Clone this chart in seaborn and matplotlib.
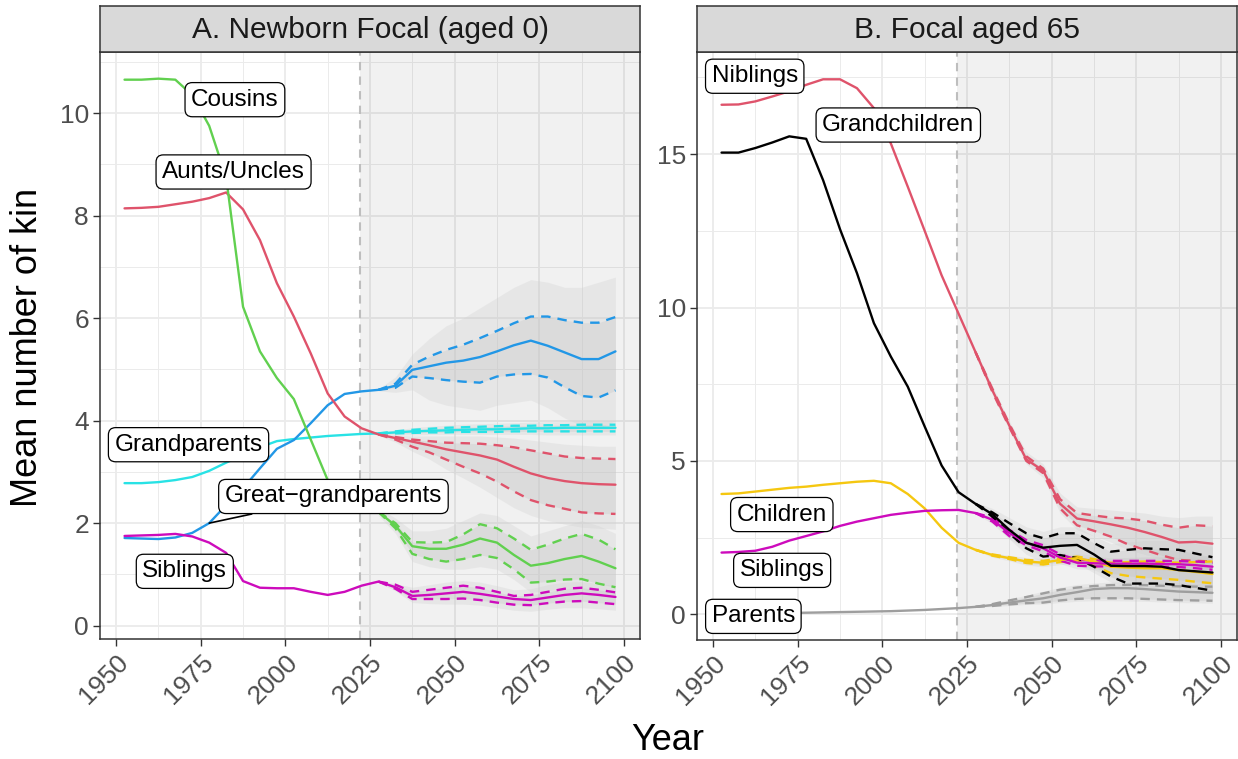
import matplotlib
matplotlib.use("Agg")
import matplotlib.pyplot as plt
import seaborn as sns

# Kin counts over time, historical + projected (mean, 2.5/97.5% dashed, simulation spread in grey)
years = [1952.5, 1957.5, 1962.5, 1967.5, 1972.5, 1977.5, 1982.5, 1987.5, 1992.5, 1997.5,
         2002.5, 2007.5, 2012.5, 2017.5, 2022.5, 2027.5, 2032.5, 2037.5, 2042.5, 2047.5,
         2052.5, 2057.5, 2062.5, 2067.5, 2072.5, 2077.5, 2082.5, 2087.5, 2092.5, 2097.5]
proj_years = years[15:]
start_projection = 2022

#%%
# Panel A: newborn focal
a_cousins = [10.65, 10.65, 10.67, 10.65, 10.35, 9.75, 8.75, 6.22, 5.35, 4.83,
             4.42, 3.63, 2.84, 2.62, 2.42, 2.22, 1.95, 1.55, 1.50, 1.50,
             1.58, 1.70, 1.62, 1.38, 1.17, 1.22, 1.30, 1.36, 1.25, 1.12]
a_cousins_hi = [2.22, 2.00, 1.63, 1.62, 1.63, 1.78, 1.98, 1.90, 1.70, 1.48, 1.58, 1.70, 1.79, 1.68, 1.49]
a_cousins_lo = [2.22, 1.90, 1.40, 1.30, 1.25, 1.30, 1.38, 1.32, 1.10, 0.84, 0.86, 0.90, 0.91, 0.82, 0.75]
a_cousins_env_hi = [2.30, 2.10, 1.85, 1.85, 1.90, 2.05, 2.20, 2.15, 1.95, 1.75, 1.85, 1.95, 2.05, 1.95, 1.80]
a_cousins_env_lo = [2.15, 1.80, 1.25, 1.15, 1.10, 1.10, 1.15, 1.10, 0.90, 0.65, 0.68, 0.72, 0.72, 0.62, 0.55]

a_aunts = [8.14, 8.15, 8.17, 8.22, 8.27, 8.34, 8.45, 8.12, 7.52, 6.68,
           6.03, 5.31, 4.53, 4.08, 3.85, 3.73, 3.66, 3.59, 3.52, 3.44,
           3.38, 3.32, 3.24, 3.10, 2.97, 2.88, 2.82, 2.78, 2.76, 2.75]
a_aunts_hi = [3.73, 3.68, 3.63, 3.60, 3.57, 3.56, 3.55, 3.52, 3.48, 3.42, 3.36, 3.30, 3.27, 3.26, 3.25]
a_aunts_lo = [3.73, 3.63, 3.49, 3.38, 3.24, 3.10, 2.97, 2.81, 2.62, 2.45, 2.35, 2.28, 2.21, 2.19, 2.18]
a_aunts_env_hi = [3.75, 3.72, 3.70, 3.70, 3.70, 3.70, 3.70, 3.68, 3.66, 3.62, 3.58, 3.54, 3.52, 3.50, 3.50]
a_aunts_env_lo = [3.71, 3.58, 3.40, 3.25, 3.05, 2.88, 2.70, 2.50, 2.30, 2.15, 2.05, 1.98, 1.92, 1.90, 1.88]

a_ggp = [1.71, 1.70, 1.69, 1.72, 1.81, 2.00, 2.35, 2.68, 3.07, 3.45,
         3.62, 3.95, 4.30, 4.52, 4.57, 4.60, 4.68, 4.99, 5.06, 5.13,
         5.17, 5.24, 5.35, 5.47, 5.56, 5.46, 5.33, 5.20, 5.20, 5.35]
a_ggp_hi = [4.60, 4.72, 5.09, 5.25, 5.38, 5.48, 5.61, 5.75, 5.90, 6.03, 6.03, 5.96, 5.91, 5.91, 6.02]
a_ggp_lo = [4.60, 4.64, 4.86, 4.83, 4.79, 4.76, 4.74, 4.86, 4.90, 4.91, 4.84, 4.65, 4.48, 4.45, 4.59]
a_ggp_env_hi = [4.62, 4.85, 5.30, 5.60, 5.85, 6.00, 6.20, 6.40, 6.60, 6.75, 6.70, 6.60, 6.60, 6.70, 6.80]
a_ggp_env_lo = [4.58, 4.55, 4.60, 4.40, 4.30, 4.25, 4.20, 4.30, 4.35, 4.40, 4.25, 4.05, 3.90, 3.85, 4.00]

a_gp = [2.78, 2.78, 2.80, 2.84, 2.90, 3.02, 3.18, 3.33, 3.48, 3.60,
        3.64, 3.67, 3.70, 3.72, 3.74, 3.75, 3.77, 3.79, 3.80, 3.81,
        3.82, 3.83, 3.83, 3.84, 3.85, 3.85, 3.86, 3.86, 3.86, 3.86]
a_gp_hi = [3.75, 3.79, 3.82, 3.84, 3.86, 3.87, 3.88, 3.89, 3.90, 3.90, 3.91, 3.91, 3.92, 3.92, 3.92]
a_gp_lo = [3.75, 3.75, 3.76, 3.77, 3.77, 3.78, 3.78, 3.78, 3.79, 3.79, 3.79, 3.79, 3.79, 3.79, 3.79]
a_gp_env_hi = [3.76, 3.82, 3.86, 3.89, 3.91, 3.93, 3.94, 3.95, 3.96, 3.97, 3.98, 3.98, 3.99, 3.99, 4.00]
a_gp_env_lo = [3.74, 3.72, 3.72, 3.73, 3.73, 3.73, 3.73, 3.73, 3.73, 3.73, 3.72, 3.72, 3.72, 3.72, 3.72]

a_sib = [1.75, 1.76, 1.77, 1.79, 1.74, 1.62, 1.42, 0.87, 0.74, 0.73,
         0.73, 0.66, 0.60, 0.66, 0.78, 0.86, 0.75, 0.58, 0.60, 0.63,
         0.66, 0.62, 0.57, 0.52, 0.50, 0.55, 0.60, 0.63, 0.60, 0.56]
a_sib_hi = [0.86, 0.80, 0.66, 0.70, 0.74, 0.78, 0.74, 0.66, 0.58, 0.60, 0.66, 0.72, 0.74, 0.70, 0.65]
a_sib_lo = [0.86, 0.72, 0.52, 0.52, 0.52, 0.53, 0.50, 0.45, 0.41, 0.40, 0.44, 0.47, 0.48, 0.45, 0.42]
a_sib_env_hi = [0.88, 0.82, 0.75, 0.80, 0.85, 0.88, 0.85, 0.78, 0.70, 0.72, 0.80, 0.85, 0.86, 0.82, 0.78]
a_sib_env_lo = [0.84, 0.68, 0.45, 0.43, 0.42, 0.42, 0.40, 0.35, 0.30, 0.28, 0.32, 0.35, 0.35, 0.33, 0.30]

#%%
# Panel B: focal aged 65
b_nib = [16.61, 16.62, 16.72, 16.88, 17.05, 17.26, 17.44, 17.44, 17.15, 16.50,
         15.35, 13.94, 12.50, 11.05, 9.80, 8.55, 7.30, 6.15, 5.05, 4.68,
         3.60, 3.12, 3.03, 2.93, 2.82, 2.68, 2.52, 2.34, 2.36, 2.30]
b_nib_hi = [8.55, 7.35, 6.20, 5.15, 4.75, 3.75, 3.30, 3.22, 3.15, 3.12, 3.05, 2.92, 2.82, 2.90, 2.87]
b_nib_lo = [8.55, 7.25, 6.10, 5.00, 4.60, 3.45, 2.90, 2.72, 2.53, 2.28, 2.10, 1.92, 1.77, 1.74, 1.72]
b_nib_env_hi = [8.60, 7.45, 6.30, 5.30, 4.90, 3.95, 3.50, 3.45, 3.40, 3.35, 3.30, 3.20, 3.15, 3.20, 3.20]
b_nib_env_lo = [8.50, 7.15, 6.00, 4.90, 4.45, 3.30, 2.75, 2.55, 2.35, 2.10, 1.95, 1.80, 1.65, 1.60, 1.60]

b_gch = [15.05, 15.05, 15.20, 15.38, 15.58, 15.50, 14.15, 12.55, 11.12, 9.49,
         8.40, 7.42, 6.12, 4.85, 3.98, 3.60, 3.26, 2.75, 2.33, 2.17,
         2.23, 2.26, 1.95, 1.58, 1.57, 1.57, 1.55, 1.44, 1.40, 1.36]
b_gch_hi = [3.60, 3.32, 2.97, 2.64, 2.48, 2.64, 2.64, 2.32, 2.04, 2.10, 2.15, 2.12, 2.10, 1.98, 1.86]
b_gch_lo = [3.60, 3.18, 2.64, 2.15, 1.88, 1.93, 1.83, 1.55, 1.23, 1.00, 1.00, 1.00, 0.95, 0.86, 0.77]
b_gch_env_hi = [3.65, 3.45, 3.15, 2.85, 2.70, 2.85, 2.85, 2.55, 2.30, 2.35, 2.40, 2.40, 2.40, 2.30, 2.20]
b_gch_env_lo = [3.55, 3.05, 2.45, 1.95, 1.70, 1.75, 1.65, 1.35, 1.05, 0.85, 0.85, 0.85, 0.80, 0.72, 0.65]

b_chi = [3.92, 3.94, 4.00, 4.06, 4.12, 4.16, 4.22, 4.27, 4.32, 4.35,
         4.27, 3.92, 3.45, 2.82, 2.33, 2.10, 1.93, 1.83, 1.72, 1.68,
         1.77, 1.83, 1.72, 1.55, 1.52, 1.50, 1.50, 1.44, 1.38, 1.31]
b_chi_hi = [2.10, 1.95, 1.86, 1.77, 1.74, 1.82, 1.88, 1.80, 1.68, 1.70, 1.72, 1.70, 1.68, 1.70, 1.72]
b_chi_lo = [2.10, 1.91, 1.80, 1.67, 1.62, 1.70, 1.76, 1.58, 1.34, 1.25, 1.20, 1.16, 1.12, 1.06, 1.01]
b_chi_env_hi = [2.12, 2.00, 1.92, 1.85, 1.82, 1.90, 1.98, 1.92, 1.82, 1.85, 1.88, 1.88, 1.85, 1.88, 1.90]
b_chi_env_lo = [2.08, 1.86, 1.74, 1.60, 1.55, 1.62, 1.66, 1.45, 1.20, 1.10, 1.05, 1.00, 0.98, 0.92, 0.88]

b_sib = [2.01, 2.03, 2.07, 2.20, 2.40, 2.55, 2.70, 2.88, 3.02, 3.13,
         3.24, 3.31, 3.37, 3.39, 3.40, 3.30, 3.08, 2.65, 2.33, 2.15,
         1.85, 1.68, 1.66, 1.65, 1.65, 1.65, 1.64, 1.63, 1.60, 1.55]
b_sib_hi = [3.30, 3.15, 2.75, 2.42, 2.25, 1.95, 1.78, 1.75, 1.74, 1.74, 1.74, 1.74, 1.73, 1.72, 1.68]
b_sib_lo = [3.30, 3.02, 2.55, 2.25, 2.05, 1.75, 1.58, 1.56, 1.56, 1.56, 1.56, 1.55, 1.54, 1.50, 1.45]
b_sib_env_hi = [3.32, 3.20, 2.85, 2.50, 2.35, 2.05, 1.88, 1.85, 1.85, 1.85, 1.85, 1.85, 1.84, 1.83, 1.80]
b_sib_env_lo = [3.28, 2.95, 2.45, 2.15, 1.95, 1.65, 1.48, 1.45, 1.45, 1.45, 1.45, 1.44, 1.43, 1.40, 1.35]

b_par = [0.02, 0.02, 0.03, 0.03, 0.04, 0.05, 0.06, 0.07, 0.08, 0.09,
         0.10, 0.12, 0.14, 0.17, 0.20, 0.24, 0.30, 0.38, 0.45, 0.52,
         0.63, 0.72, 0.82, 0.85, 0.85, 0.82, 0.78, 0.74, 0.72, 0.70]
b_par_hi = [0.24, 0.33, 0.45, 0.56, 0.68, 0.80, 0.87, 0.92, 0.95, 0.96, 0.95, 0.93, 0.91, 0.90, 0.90]
b_par_lo = [0.24, 0.27, 0.32, 0.36, 0.38, 0.45, 0.50, 0.52, 0.52, 0.52, 0.50, 0.48, 0.46, 0.45, 0.44]
b_par_env_hi = [0.25, 0.36, 0.50, 0.62, 0.75, 0.88, 0.97, 1.02, 1.05, 1.06, 1.05, 1.03, 1.01, 1.00, 1.00]
b_par_env_lo = [0.23, 0.25, 0.28, 0.32, 0.33, 0.38, 0.42, 0.44, 0.44, 0.43, 0.42, 0.40, 0.38, 0.37, 0.36]

# R 4 default palette
red, green, blue, cyan = "#DF536B", "#61D04F", "#2297E6", "#28E2E5"
magenta, yellow, grey, black = "#CD0BBC", "#F5C710", "#9E9E9E", "#000000"

panel_a = [(a_gp, a_gp_hi, a_gp_lo, a_gp_env_hi, a_gp_env_lo, cyan),
           (a_ggp, a_ggp_hi, a_ggp_lo, a_ggp_env_hi, a_ggp_env_lo, blue),
           (a_aunts, a_aunts_hi, a_aunts_lo, a_aunts_env_hi, a_aunts_env_lo, red),
           (a_cousins, a_cousins_hi, a_cousins_lo, a_cousins_env_hi, a_cousins_env_lo, green),
           (a_sib, a_sib_hi, a_sib_lo, a_sib_env_hi, a_sib_env_lo, magenta)]
panel_b = [(b_par, b_par_hi, b_par_lo, b_par_env_hi, b_par_env_lo, grey),
           (b_nib, b_nib_hi, b_nib_lo, b_nib_env_hi, b_nib_env_lo, red),
           (b_chi, b_chi_hi, b_chi_lo, b_chi_env_hi, b_chi_env_lo, yellow),
           (b_sib, b_sib_hi, b_sib_lo, b_sib_env_hi, b_sib_env_lo, magenta),
           (b_gch, b_gch_hi, b_gch_lo, b_gch_env_hi, b_gch_env_lo, black)]

# label text, year, value
labels_a = [("Cousins", 1985.1, 10.26), ("Aunts/Uncles", 1984.7, 8.85),
            ("Grandparents", 1971.4, 3.53), ("Siblings", 1970.3, 1.06)]
labels_b = [("Niblings", 1962.3, 17.54), ("Grandchildren", 2004.7, 15.95),
            ("Children", 1970.3, 3.25), ("Siblings", 1970.4, 1.43),
            ("Parents", 1961.9, -0.07)]

#%%
sns.set_theme(style="white")
plt.rcParams["font.family"] = ["Liberation Sans", "DejaVu Sans"]

fig = plt.figure(figsize=(12.38, 7.59), dpi=100)
W, H = 1238, 759

def px_axes(x0, y0, x1, y1):
    return fig.add_axes([x0 / W, 1 - y1 / H, (x1 - x0) / W, (y1 - y0) / H])

xlim = (1945.25, 2104.75)

def style_panel(ax, ylim, yticks, yminor):
    ax.set_xlim(*xlim)
    ax.set_ylim(*ylim)
    ax.set_xticks([1950, 1975, 2000, 2025, 2050, 2075, 2100])
    ax.set_xticks([1962.5, 1987.5, 2012.5, 2037.5, 2062.5, 2087.5], minor=True)
    ax.set_yticks(yticks)
    ax.set_yticks(yminor, minor=True)
    ax.set_yticklabels([str(t) for t in yticks])
    ax.set_xticklabels(["1950", "1975", "2000", "2025", "2050", "2075", "2100"],
                       rotation=45, ha="right", rotation_mode="anchor")
    ax.grid(which="major", color="#EBEBEB", lw=1.3)
    ax.grid(which="minor", color="#EBEBEB", lw=0.7)
    ax.set_axisbelow(True)
    ax.tick_params(which="major", length=5, width=1, color="#333333", labelsize=19,
                   labelcolor="#4D4D4D", pad=3, bottom=True, left=True)
    ax.tick_params(which="minor", length=0)
    for s in ax.spines.values():
        s.set_color("#333333")
        s.set_linewidth(1.1)
    ax.axvspan(start_projection, xlim[1], color="black", alpha=0.055, lw=0, zorder=1.5)
    ax.axvline(start_projection, color="#BEBEBE", ls=(0, (4, 3)), lw=1.5, zorder=1.6)


def draw_kin(ax, mean, hi, lo, env_hi, env_lo, color):
    ax.fill_between(proj_years, env_lo, env_hi, color="#CFCFCF", alpha=0.3, lw=0, zorder=2)
    ax.fill_between(proj_years, lo, hi, color="#C2C2C2", alpha=0.3, lw=0, zorder=2.1)
    sns.lineplot(x=proj_years, y=hi, color=color, lw=1.7, linestyle=(0, (4, 3)), ax=ax, zorder=3)
    sns.lineplot(x=proj_years, y=lo, color=color, lw=1.7, linestyle=(0, (4, 3)), ax=ax, zorder=3)
    sns.lineplot(x=years, y=mean, color=color, lw=1.7, ax=ax, zorder=4)


def add_label(ax, text, x, y, **kw):
    return ax.annotate(text, xy=kw.pop("xy", (x, y)), xytext=(x, y), ha="center", va="center",
                       fontsize=17.5, color="black", zorder=6,
                       bbox=dict(boxstyle="round,pad=0.25,rounding_size=0.3", fc="white",
                                 ec="black", lw=0.9), **kw)


ax_a = px_axes(100, 52, 640, 639)
ax_b = px_axes(697, 52, 1237, 640)

style_panel(ax_a, (-0.26, 11.19), [0, 2, 4, 6, 8, 10], [1, 3, 5, 7, 9, 11])
style_panel(ax_b, (-0.84, 18.33), [0, 5, 10, 15], [2.5, 7.5, 12.5, 17.5])

for mean, hi, lo, ehi, elo, c in panel_a:
    draw_kin(ax_a, mean, hi, lo, ehi, elo, c)
for mean, hi, lo, ehi, elo, c in panel_b:
    draw_kin(ax_b, mean, hi, lo, ehi, elo, c)

for ax in (ax_a, ax_b):
    ax.set_xlim(*xlim)
    ax.set_xlabel("")
    ax.set_ylabel("")
ax_a.set_ylim(-0.26, 11.19)
ax_b.set_ylim(-0.84, 18.33)

for t, x, y in labels_a:
    add_label(ax_a, t, x, y)
add_label(ax_a, "Great\u2212grandparents", 2014.2, 2.52, xy=(years[5], a_ggp[5]),
          arrowprops=dict(arrowstyle="-", color="black", lw=1.2, shrinkA=0, shrinkB=0))
for t, x, y in labels_b:
    add_label(ax_b, t, x, y)

# facet strips
for (x0, x1), title in [((100, 640), "A. Newborn Focal (aged 0)"), ((697, 1237), "B. Focal aged 65")]:
    st = px_axes(x0, 6, x1, 52)
    st.set_facecolor("#D9D9D9")
    st.set_xticks([])
    st.set_yticks([])
    for s in st.spines.values():
        s.set_color("#333333")
        s.set_linewidth(1.1)
    st.text(0.5, 0.47, title, ha="center", va="center", fontsize=21.5, color="#1A1A1A",
            transform=st.transAxes)

fig.text(28 / W, 1 - 347 / H, "Mean number of kin", rotation=90, ha="center", va="center",
         fontsize=26, color="black")
fig.text(668 / W, 1 - 740 / H, "Year", ha="center", va="center", fontsize=26, color="black")

fig.savefig("out.png", dpi=100)
